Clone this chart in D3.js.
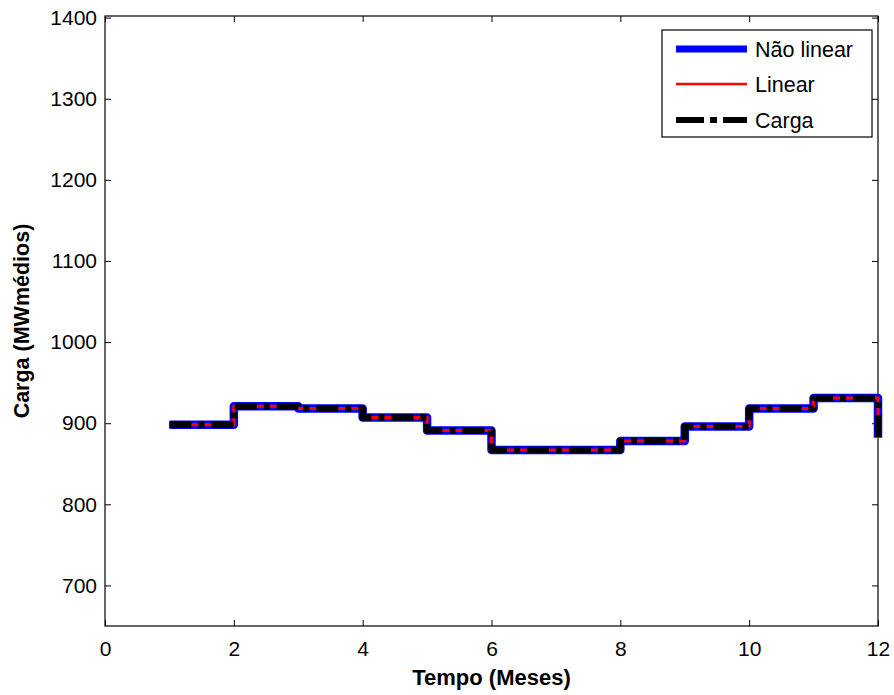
<!DOCTYPE html>
<html>
<head>
<meta charset="utf-8">
<script src="https://cdn.jsdelivr.net/npm/d3@7"></script>
<style>
  body { margin: 0; background: #fff; }
  text { font-family: "Liberation Sans", Arial, sans-serif; }
</style>
</head>
<body>
<div id="chart"></div>
<script>
// Data
var months = [1, 2, 3, 4, 5, 6, 7, 8, 9, 10, 11, 12];
var naoLinear = [898, 921, 918, 907, 891, 867, 867, 878, 896, 918, 931, 882];
var linear = [898, 921, 918, 907, 891, 867, 867, 878, 896, 918, 931, 882];
var carga = [898, 921, 918, 907, 891, 867, 867, 878, 896, 918, 931, 882];
var xTicks = [0, 2, 4, 6, 8, 10, 12];
var yTicks = [700, 800, 900, 1000, 1100, 1200, 1300, 1400];
var legendLabels = ["Não linear", "Linear", "Carga"];

var svgWidth = 894;
var svgHeight = 695;
var margin = {top: 16, right: 16, bottom: 69, left: 105};
var width = svgWidth - margin.left - margin.right;
var height = svgHeight - margin.top - margin.bottom;

var svg = d3.select("#chart")
    .append("svg")
    .attr("width", svgWidth)
    .attr("height", svgHeight);

var chartGroup = svg.append("g")
    .attr("transform", `translate(${margin.left}, ${margin.top})`);

// Scales
var xScale = d3.scaleLinear().domain([0, 12]).range([0, width]);
var yScale = d3.scaleLinear().domain([650, 1402]).range([height, 0]);

// Axes, ticks inside like MATLAB
var tick = 6;
chartGroup.append("g")
    .attr("transform", `translate(0, ${height})`)
    .call(d3.axisBottom(xScale).tickValues(xTicks).tickSizeInner(-tick).tickSizeOuter(0).tickPadding(15));
chartGroup.append("g")
    .call(d3.axisTop(xScale).tickValues(xTicks).tickSizeInner(-tick).tickSizeOuter(0).tickFormat(""));
chartGroup.append("g")
    .call(d3.axisLeft(yScale).tickValues(yTicks).tickSizeInner(-tick).tickSizeOuter(0)
        .tickFormat(d3.format("d")).tickPadding(8));
chartGroup.append("g")
    .attr("transform", `translate(${width}, 0)`)
    .call(d3.axisRight(yScale).tickValues(yTicks).tickSizeInner(-tick).tickSizeOuter(0).tickFormat(""));

chartGroup.selectAll(".domain").remove();
chartGroup.selectAll(".tick line").attr("stroke", "#000");
chartGroup.selectAll(".tick text")
    .attr("font-size", 21)
    .attr("fill", "#000")
    .style("font-family", "Liberation Sans, Arial, sans-serif");

// Frame
chartGroup.append("rect")
    .attr("x", 0).attr("y", 0)
    .attr("width", width).attr("height", height)
    .attr("fill", "none")
    .attr("stroke", "#000")
    .attr("stroke-width", 1.2);

// Step lines
var line = d3.line()
    .x(d => xScale(d[0]))
    .y(d => yScale(d[1]))
    .curve(d3.curveStepAfter);

function pairs(vals) {
    return months.map((m, i) => [m, vals[i]]);
}

chartGroup.append("path")
    .datum(pairs(naoLinear))
    .attr("d", line)
    .attr("fill", "none")
    .attr("stroke", "#0000ff")
    .attr("stroke-width", 8.5)
    .attr("stroke-linejoin", "round");

chartGroup.append("path")
    .datum(pairs(linear))
    .attr("d", line)
    .attr("fill", "none")
    .attr("stroke", "#ff0000")
    .attr("stroke-width", 3);

chartGroup.append("path")
    .datum(pairs(carga))
    .attr("d", line)
    .attr("fill", "none")
    .attr("stroke", "#000")
    .attr("stroke-width", 6.5)
    .attr("stroke-linejoin", "round")
    .attr("stroke-dasharray", "22,7,6,7");

// Legend
var legend = svg.append("g");
legend.append("rect")
    .attr("x", 662).attr("y", 30)
    .attr("width", 210).attr("height", 107)
    .attr("fill", "#fff")
    .attr("stroke", "#000")
    .attr("stroke-width", 1.2);

var legendStyles = [
    {stroke: "#0000ff", width: 7, dash: null},
    {stroke: "#ff0000", width: 2.5, dash: null},
    {stroke: "#000", width: 6, dash: "28,6,7,6"}
];
var legendY = [49, 84, 120];

legendLabels.forEach(function (label, i) {
    legend.append("line")
        .attr("x1", 676).attr("x2", 747)
        .attr("y1", legendY[i]).attr("y2", legendY[i])
        .attr("stroke", legendStyles[i].stroke)
        .attr("stroke-width", legendStyles[i].width)
        .attr("stroke-dasharray", legendStyles[i].dash);
    legend.append("text")
        .attr("x", 755)
        .attr("y", legendY[i])
        .attr("dy", "0.35em")
        .attr("font-size", 21.5)
        .text(label);
});

// Axis titles
svg.append("text")
    .attr("x", margin.left + width / 2)
    .attr("y", 685)
    .attr("text-anchor", "middle")
    .attr("font-size", 22)
    .attr("font-weight", "bold")
    .text("Tempo (Meses)");

svg.append("text")
    .attr("transform", `translate(29, ${margin.top + height / 2}) rotate(-90)`)
    .attr("text-anchor", "middle")
    .attr("font-size", 21.5)
    .attr("font-weight", "bold")
    .text("Carga (MWmédios)");
</script>
</body>
</html>
